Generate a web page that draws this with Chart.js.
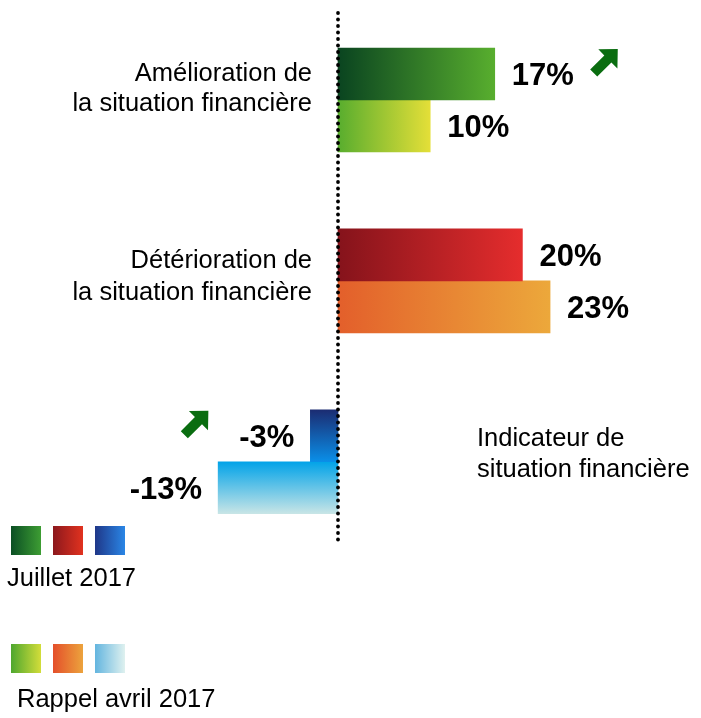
<!DOCTYPE html>
<html><head><meta charset="utf-8">
<script src="https://cdn.jsdelivr.net/npm/chart.js@4/dist/chart.umd.min.js"></script>
<style>html,body{margin:0;padding:0;background:#fff;}canvas{display:block;}</style>
</head><body>
<canvas id="c" width="701" height="718"></canvas>
<script>
// ---- data ----
const categories = [["Amélioration de","la situation financière"],["Détérioration de","la situation financière"],["Indicateur de","situation financière"]];
const seriesNames = ["Juillet 2017","Rappel avril 2017"];
const juillet2017 = [17, 20, -3];
const avril2017 = [10, 23, -13];
const juilletLabels = ["17%","20%","-3%"];
const avrilLabels = ["10%","23%","-13%"];
const improvedArrow = [true, false, true];

// ---- styles ----
const FONT = '"Liberation Sans", Arial, Helvetica, sans-serif';
const BAR_PX = 52;
const juilletColors = [['#0a4420','#58ae2e'],['#85131b','#e52d2d'],['#1b2c72','#0a8fe8']];
const avrilColors = [['#58ad2e','#e4df38'],['#e35f2b','#eca83b'],['#02a3e8','#c8e5e6']];
const gradientDir = ['h','h','v'];
const juilletLegend = [['#0b4f24','#3d9d33'],['#8c181d','#e1321f'],['#1f3788','#2a86e6']];
const avrilLegend = [['#4ea72f','#d3dd3a'],['#e44f2a','#eca33d'],['#63b5df','#dff1ef']];
const ARROW_COLOR = '#0a6d10';

function barFill(ctx){
  const pal = ctx.datasetIndex === 0 ? juilletColors : avrilColors;
  if (ctx.type !== 'data') return pal[0][1];
  const chart = ctx.chart, xs = chart.scales.x, ys = chart.scales.y;
  const c = pal[ctx.dataIndex];
  if (!xs || !ys || !chart.chartArea) return c[1];
  const g2 = chart.ctx;
  let g;
  if (gradientDir[ctx.dataIndex] === 'h') {
    const x0 = xs.getPixelForValue(0), x1 = xs.getPixelForValue(ctx.raw);
    if (!isFinite(x0) || !isFinite(x1) || x0 === x1) return c[1];
    g = g2.createLinearGradient(x0, 0, x1, 0);
  } else {
    const yc = ys.getPixelForValue(ctx.dataIndex);
    const top = yc - BAR_PX + ctx.datasetIndex * BAR_PX;
    if (!isFinite(top)) return c[1];
    g = g2.createLinearGradient(0, top, 0, top + BAR_PX);
  }
  g.addColorStop(0, c[0]); g.addColorStop(1, c[1]);
  return g;
}

const labelOffsets = [[-19, 11], [-13, 19], [-16, 15]];

const decor = {
  id: 'decor',
  afterDatasetsDraw(chart){
    const ctx = chart.ctx, xs = chart.scales.x, ys = chart.scales.y;
    const x0 = xs.getPixelForValue(0);
    ctx.save();
    // dotted zero line
    ctx.fillStyle = '#000';
    for (let y = 13; y <= 540; y += 6.5) {
      ctx.beginPath(); ctx.arc(x0, y, 1.9, 0, Math.PI*2); ctx.fill();
    }
    // category labels
    ctx.font = '25.5px ' + FONT;
    ctx.fillStyle = '#000';
    categories.forEach((lines, i) => {
      const yc = ys.getPixelForValue(i);
      const right = i < 2;
      ctx.textAlign = right ? 'right' : 'left';
      const x = right ? x0 - 26 : x0 + 139;
      lines.forEach((t, k) => ctx.fillText(t, x, yc + labelOffsets[i][k]));
    });
    // value labels
    ctx.font = 'bold 31px ' + FONT;
    ctx.fillStyle = '#000';
    ctx.textBaseline = 'alphabetic';
    [juilletLabels, avrilLabels].forEach((labs, d) => {
      const meta = chart.getDatasetMeta(d);
      meta.data.forEach((el, i) => {
        const v = chart.data.datasets[d].data[i];
        if (v >= 0) { ctx.textAlign = 'left'; ctx.fillText(labs[i], el.x + 17, el.y + 11); }
        else { ctx.textAlign = 'right'; ctx.fillText(labs[i], el.x - 16, el.y + 11); }
      });
    });
    // arrows
    const meta0 = chart.getDatasetMeta(0);
    improvedArrow.forEach((on, i) => {
      if (!on) return;
      const el = meta0.data[i];
      let cx, cy;
      if (juillet2017[i] >= 0) { cx = el.x + 111; cy = el.y - 13; }
      else { cx = el.x - 114; cy = el.y - 13; }
      drawArrow(ctx, cx, cy);
    });
    // legend
    [juilletLegend, avrilLegend].forEach((pal, d) => {
      const top = d === 0 ? 526 : 644;
      const lefts = [11, 53, 95];
      pal.forEach((c, k) => {
        const g = ctx.createLinearGradient(lefts[k], 0, lefts[k] + 30, 0);
        g.addColorStop(0, c[0]); g.addColorStop(1, c[1]);
        ctx.fillStyle = g;
        ctx.fillRect(lefts[k], top, 30, 29);
      });
    });
    ctx.font = '25.5px ' + FONT;
    ctx.fillStyle = '#000';
    ctx.textAlign = 'left';
    ctx.fillText(seriesNames[0], 7, 586);
    ctx.fillText(seriesNames[1], 17, 707);
    ctx.restore();
  }
};

function drawArrow(ctx, cx, cy){
  ctx.save();
  ctx.translate(cx, cy);
  ctx.rotate(-Math.PI/4);
  ctx.fillStyle = ARROW_COLOR;
  const L = 34, h = 14, hw = 13.5, sw = 5;
  ctx.beginPath();
  ctx.moveTo(-L/2, -sw);
  ctx.lineTo(L/2 - h, -sw);
  ctx.lineTo(L/2 - h, -hw);
  ctx.lineTo(L/2, 0);
  ctx.lineTo(L/2 - h, hw);
  ctx.lineTo(L/2 - h, sw);
  ctx.lineTo(-L/2, sw);
  ctx.closePath();
  ctx.fill();
  ctx.restore();
}

new Chart(document.getElementById('c'), {
  type: 'bar',
  data: {
    labels: categories,
    datasets: [
      { label: seriesNames[0], data: juillet2017, backgroundColor: barFill, borderWidth: 0, barThickness: BAR_PX },
      { label: seriesNames[1], data: avril2017, backgroundColor: barFill, borderWidth: 0, barThickness: BAR_PX }
    ]
  },
  options: {
    indexAxis: 'y',
    responsive: false,
    animation: false,
    devicePixelRatio: 1,
    layout: { padding: { top: 9.6, bottom: 165.8, left: 0, right: 0 } },
    scales: {
      x: { display: false, min: -36.66, max: 39.37 },
      y: { display: false }
    },
    plugins: { legend: { display: false }, tooltip: { enabled: false } },
    events: []
  },
  plugins: [decor]
});
</script>
</body></html>
